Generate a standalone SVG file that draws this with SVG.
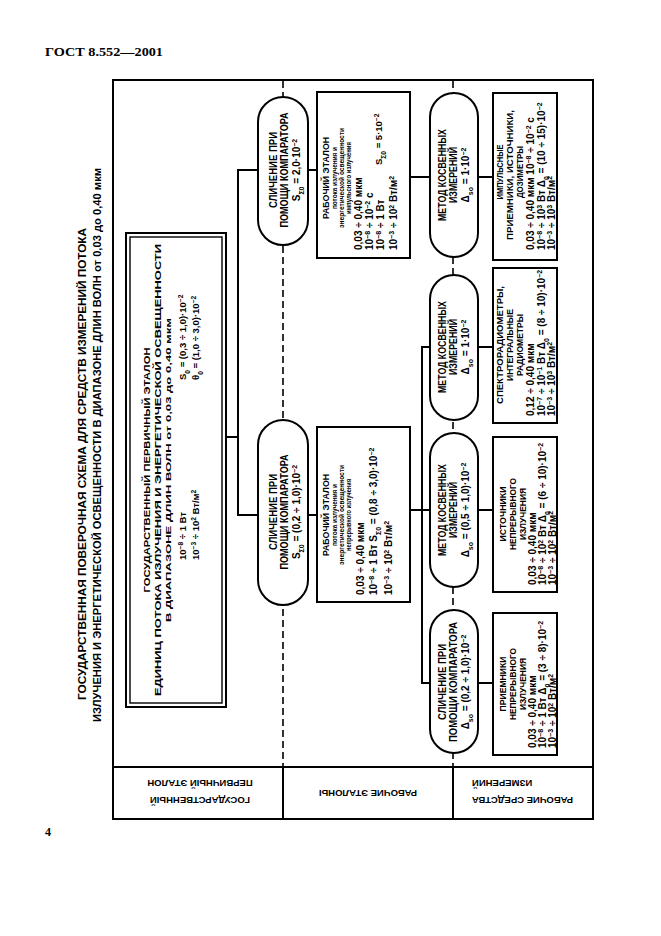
<svg xmlns="http://www.w3.org/2000/svg" width="661" height="936" viewBox="0 0 661 936">
<style>
.t{font-family:"Liberation Sans",Arial,sans-serif;font-weight:bold;fill:#000}
.f{fill:#fff;stroke:#000;stroke-width:2}
.c{fill:none;stroke:#000;stroke-width:2}
.d{fill:none;stroke:#000;stroke-width:1.6;stroke-dasharray:7 4}
.h{font-family:"Liberation Serif","Times New Roman",serif;font-weight:bold;fill:#000}
.u{baseline-shift:super;font-size:70%}
.l{baseline-shift:sub;font-size:70%}
</style>
<rect width="661" height="936" fill="#fff"/>
<text class="h" x="45" y="56" font-size="13.5" textLength="118" lengthAdjust="spacingAndGlyphs">ГОСТ 8.552—2001</text>
<text class="h" x="45" y="836" font-size="12" font-weight="normal">4</text>

<g id="title">
<text class="t" font-size="10.5" text-anchor="middle" transform="translate(86,464) rotate(-90)" textLength="472" lengthAdjust="spacingAndGlyphs">ГОСУДАРСТВЕННАЯ ПОВЕРОЧНАЯ СХЕМА ДЛЯ СРЕДСТВ ИЗМЕРЕНИЙ ПОТОКА</text>
<text class="t" font-size="10.5" text-anchor="middle" transform="translate(101,445) rotate(-90)" textLength="554" lengthAdjust="spacingAndGlyphs">ИЗЛУЧЕНИЯ И ЭНЕРГЕТИЧЕСКОЙ ОСВЕЩЕННОСТИ В ДИАПАЗОНЕ ДЛИН ВОЛН от 0,03 до 0,40 мкм</text>
</g>

<g id="frame">
<rect class="c" x="113" y="80" width="480" height="739" stroke-width="2.5"/>
<line class="c" x1="113" y1="767" x2="593" y2="767"/>
<line class="c" x1="283" y1="767" x2="283" y2="819"/>
<line class="c" x1="453" y1="767" x2="453" y2="819"/>
<line class="d" x1="283" y1="81" x2="283" y2="767"/>
<line class="d" x1="453" y1="81" x2="453" y2="767"/>
</g>

<g id="labels">
<text class="t" font-size="9.5" text-anchor="middle" transform="translate(200,780) rotate(180)">ПЕРВИЧНЫЙ ЭТАЛОН</text>
<text class="t" font-size="9.5" text-anchor="middle" transform="translate(200,797) rotate(180)">ГОСУДАРСТВЕННЫЙ</text>
<text class="t" font-size="9.5" text-anchor="middle" transform="translate(368,790) rotate(180)">РАБОЧИЕ ЭТАЛОНЫ</text>
<text class="t" font-size="9.5" text-anchor="end" transform="translate(472,780) rotate(180)">ИЗМЕРЕНИЙ</text>
<text class="t" font-size="9.5" text-anchor="end" transform="translate(472,797) rotate(180)">РАБОЧИЕ СРЕДСТВА</text>
</g>

<g id="connectors">
<polyline class="c" points="226,437 238,437"/>
<polyline class="c" points="258,170 238,170 238,515 258,515"/>
<line class="c" x1="308" y1="170" x2="317" y2="170"/>
<line class="c" x1="308" y1="515" x2="317" y2="515"/>
<line class="c" x1="410" y1="177" x2="430" y2="177"/>
<line class="c" x1="410" y1="510" x2="422" y2="510"/>
<polyline class="c" points="430,347 422,347 422,683 430,683"/>
<line class="c" x1="422" y1="510" x2="430" y2="510"/>
<line class="c" x1="478" y1="177" x2="493" y2="177"/>
<line class="c" x1="478" y1="347" x2="493" y2="347"/>
<line class="c" x1="478" y1="510" x2="493" y2="510"/>
<line class="c" x1="478" y1="683" x2="493" y2="683"/>
</g>

<g id="primary">
<rect class="f" x="126" y="233" width="100" height="474"/>
<rect fill="none" stroke="#000" stroke-width="1.4" x="130" y="237" width="92" height="466"/>
<text class="t" font-size="9.5" text-anchor="middle" transform="translate(149.5,470) rotate(-90)" textLength="245" lengthAdjust="spacingAndGlyphs">ГОСУДАРСТВЕННЫЙ ПЕРВИЧНЫЙ ЭТАЛОН</text>
<text class="t" font-size="9.5" text-anchor="middle" transform="translate(160.5,470) rotate(-90)" textLength="452" lengthAdjust="spacingAndGlyphs">ЕДИНИЦ ПОТОКА ИЗЛУЧЕНИЯ И ЭНЕРГЕТИЧЕСКОЙ ОСВЕЩЕННОСТИ</text>
<text class="t" font-size="7.5" text-anchor="middle" transform="translate(170.5,470) rotate(-90)" textLength="304" lengthAdjust="spacingAndGlyphs">В ДИАПАЗОНЕ ДЛИН ВОЛН от 0,03 до 0,40 мкм</text>
<text class="t" font-size="9.5" transform="translate(185.5,380) rotate(-90)">S<tspan class="l">0</tspan> = (0,3 ÷ 1,0)·10<tspan class="u">−2</tspan></text>
<text class="t" font-size="9.5" transform="translate(198.5,380) rotate(-90)">θ<tspan class="l">0</tspan> = (1,0 ÷ 3,0)·10<tspan class="u">−2</tspan></text>
<text class="t" font-size="9.5" transform="translate(185.5,560) rotate(-90)">10<tspan class="u">−8</tspan> ÷ 1 Вт</text>
<text class="t" font-size="9.5" transform="translate(198.5,560) rotate(-90)">10<tspan class="u">−3</tspan> ÷ 10<tspan class="u">2</tspan> Вт/м<tspan class="u">2</tspan></text>
</g>

<g id="cmp1">
<rect class="f" x="258" y="97" width="50" height="148" rx="25"/>
<text class="t" font-size="10" text-anchor="middle" transform="translate(277,170) rotate(-90)" textLength="76" lengthAdjust="spacingAndGlyphs">СЛИЧЕНИЕ ПРИ</text>
<text class="t" font-size="10" text-anchor="middle" transform="translate(287.5,170) rotate(-90)" textLength="115" lengthAdjust="spacingAndGlyphs">ПОМОЩИ КОМПАРАТОРА</text>
<text class="t" font-size="10" text-anchor="middle" transform="translate(299.5,170) rotate(-90)">S<tspan class="l">Σ0</tspan> = 2,0·10<tspan class="u">−2</tspan></text>
</g>

<g id="cmp2">
<rect class="f" x="258" y="420" width="50" height="185" rx="25"/>
<text class="t" font-size="10" text-anchor="middle" transform="translate(277,512) rotate(-90)" textLength="76" lengthAdjust="spacingAndGlyphs">СЛИЧЕНИЕ ПРИ</text>
<text class="t" font-size="10" text-anchor="middle" transform="translate(287.5,512) rotate(-90)" textLength="115" lengthAdjust="spacingAndGlyphs">ПОМОЩИ КОМПАРАТОРА</text>
<text class="t" font-size="10" text-anchor="middle" transform="translate(299.5,512) rotate(-90)">S<tspan class="l">Σ0</tspan> = (0,2 ÷ 1,0)·10<tspan class="u">−2</tspan></text>
</g>

<g id="we1">
<rect class="f" x="317" y="92" width="93" height="166"/>
<text class="t" font-size="9.5" text-anchor="middle" transform="translate(329,178) rotate(-90)" textLength="82" lengthAdjust="spacingAndGlyphs">РАБОЧИЙ ЭТАЛОН</text>
<text class="t" font-size="6.5" text-anchor="middle" transform="translate(337,178) rotate(-90)" textLength="62" lengthAdjust="spacingAndGlyphs">потока излучения и</text>
<text class="t" font-size="6.5" text-anchor="middle" transform="translate(344,178) rotate(-90)" textLength="100" lengthAdjust="spacingAndGlyphs">энергетической освещенности</text>
<text class="t" font-size="6.5" text-anchor="middle" transform="translate(351,178) rotate(-90)" textLength="72" lengthAdjust="spacingAndGlyphs">импульсного излучения</text>
<text class="t" font-size="10" transform="translate(361.5,250) rotate(-90)">0,03 ÷ 0,40 мкм</text>
<text class="t" font-size="10" transform="translate(372.5,250) rotate(-90)">10<tspan class="u">−8</tspan> ÷ 10<tspan class="u">−2</tspan> с</text>
<text class="t" font-size="10" transform="translate(384,250) rotate(-90)">10<tspan class="u">−8</tspan> ÷ 1 Вт</text>
<text class="t" font-size="9.5" transform="translate(382,165) rotate(-90)">S<tspan class="l">Σ0</tspan> = 5·10<tspan class="u">−2</tspan></text>
<text class="t" font-size="10" transform="translate(397,250) rotate(-90)">10<tspan class="u">−3</tspan> ÷ 10<tspan class="u">2</tspan> Вт/м<tspan class="u">2</tspan></text>
</g>

<g id="we2">
<rect class="f" x="317" y="427" width="93" height="175"/>
<text class="t" font-size="9.5" text-anchor="middle" transform="translate(329,515) rotate(-90)" textLength="82" lengthAdjust="spacingAndGlyphs">РАБОЧИЙ ЭТАЛОН</text>
<text class="t" font-size="6.5" text-anchor="middle" transform="translate(337,515) rotate(-90)" textLength="62" lengthAdjust="spacingAndGlyphs">потока излучения и</text>
<text class="t" font-size="6.5" text-anchor="middle" transform="translate(344,515) rotate(-90)" textLength="100" lengthAdjust="spacingAndGlyphs">энергетической освещенности</text>
<text class="t" font-size="6.5" text-anchor="middle" transform="translate(351,515) rotate(-90)" textLength="72" lengthAdjust="spacingAndGlyphs">непрерывного излучения</text>
<text class="t" font-size="10" transform="translate(364,595) rotate(-90)">0,03 ÷ 0,40 мкм</text>
<text class="t" font-size="10" transform="translate(377,595) rotate(-90)">10<tspan class="u">−8</tspan> ÷ 1 Вт  S<tspan class="l">Σ0</tspan> = (0,8 ÷ 3,0)·10<tspan class="u">−2</tspan></text>
<text class="t" font-size="10" transform="translate(392,595) rotate(-90)">10<tspan class="u">−3</tspan> ÷ 10<tspan class="u">2</tspan> Вт/м<tspan class="u">2</tspan></text>
</g>

<g id="ind1">
<rect class="f" x="430" y="93" width="48" height="164" rx="24"/>
<text class="t" font-size="10" text-anchor="middle" transform="translate(446,175) rotate(-90)" textLength="92" lengthAdjust="spacingAndGlyphs">МЕТОД КОСВЕННЫХ</text>
<text class="t" font-size="10" text-anchor="middle" transform="translate(456.5,175) rotate(-90)" textLength="56" lengthAdjust="spacingAndGlyphs">ИЗМЕРЕНИЙ</text>
<text class="t" font-size="10" text-anchor="middle" transform="translate(468.5,175) rotate(-90)">Δ<tspan class="l">so</tspan> = 1·10<tspan class="u">−2</tspan></text>
</g>

<g id="ind2">
<rect class="f" x="430" y="275" width="48" height="145" rx="24"/>
<text class="t" font-size="10" text-anchor="middle" transform="translate(446,347) rotate(-90)" textLength="92" lengthAdjust="spacingAndGlyphs">МЕТОД КОСВЕННЫХ</text>
<text class="t" font-size="10" text-anchor="middle" transform="translate(456.5,347) rotate(-90)" textLength="56" lengthAdjust="spacingAndGlyphs">ИЗМЕРЕНИЙ</text>
<text class="t" font-size="10" text-anchor="middle" transform="translate(468.5,347) rotate(-90)">Δ<tspan class="l">so</tspan> = 1·10<tspan class="u">−2</tspan></text>
</g>

<g id="ind3">
<rect class="f" x="430" y="433" width="48" height="154" rx="24"/>
<text class="t" font-size="10" text-anchor="middle" transform="translate(446,510) rotate(-90)" textLength="92" lengthAdjust="spacingAndGlyphs">МЕТОД КОСВЕННЫХ</text>
<text class="t" font-size="10" text-anchor="middle" transform="translate(456.5,510) rotate(-90)" textLength="56" lengthAdjust="spacingAndGlyphs">ИЗМЕРЕНИЙ</text>
<text class="t" font-size="10" text-anchor="middle" transform="translate(468.5,510) rotate(-90)">Δ<tspan class="l">so</tspan> = (0,5 ÷ 1,0)·10<tspan class="u">−2</tspan></text>
</g>

<g id="cmp3">
<rect class="f" x="430" y="610" width="48" height="143" rx="24"/>
<text class="t" font-size="10" text-anchor="middle" transform="translate(446,682) rotate(-90)" textLength="76" lengthAdjust="spacingAndGlyphs">СЛИЧЕНИЕ ПРИ</text>
<text class="t" font-size="10" text-anchor="middle" transform="translate(456.5,682) rotate(-90)" textLength="120" lengthAdjust="spacingAndGlyphs">ПОМОЩИ КОМПАРАТОРА</text>
<text class="t" font-size="10" text-anchor="middle" transform="translate(468.5,682) rotate(-90)">Δ<tspan class="l">so</tspan> = (0,2 ÷ 1,0)·10<tspan class="u">−2</tspan></text>
</g>

<g id="mi1">
<rect class="f" x="493" y="93" width="64" height="167"/>
<text class="t" font-size="9.5" text-anchor="middle" transform="translate(503,172) rotate(-90)" textLength="55" lengthAdjust="spacingAndGlyphs">ИМПУЛЬСНЫЕ</text>
<text class="t" font-size="9.5" text-anchor="middle" transform="translate(513,175) rotate(-90)" textLength="130" lengthAdjust="spacingAndGlyphs">ПРИЕМНИКИ, ИСТОЧНИКИ,</text>
<text class="t" font-size="9.5" text-anchor="middle" transform="translate(523,172) rotate(-90)" textLength="52" lengthAdjust="spacingAndGlyphs">ДОЗИМЕТРЫ</text>
<text class="t" font-size="10" transform="translate(533.5,250) rotate(-90)">0,03 ÷ 0,40 мкм  10<tspan class="u">−8</tspan> ÷ 10<tspan class="u">−2</tspan> с</text>
<text class="t" font-size="10" transform="translate(544.5,250) rotate(-90)">10<tspan class="u">−8</tspan> ÷ 10<tspan class="u">3</tspan> Вт Δ<tspan class="l">0</tspan> = (10 ÷ 15)·10<tspan class="u">−2</tspan></text>
<text class="t" font-size="10" transform="translate(555,250) rotate(-90)">10<tspan class="u">−3</tspan> ÷ 10<tspan class="u">3</tspan> Вт/м<tspan class="u">2</tspan></text>
</g>

<g id="mi2">
<rect class="f" x="493" y="268" width="64" height="155"/>
<text class="t" font-size="9.5" text-anchor="middle" transform="translate(503,345) rotate(-90)" textLength="118" lengthAdjust="spacingAndGlyphs">СПЕКТРОРАДИОМЕТРЫ,</text>
<text class="t" font-size="9.5" text-anchor="middle" transform="translate(513,345) rotate(-90)" textLength="72" lengthAdjust="spacingAndGlyphs">ИНТЕГРАЛЬНЫЕ</text>
<text class="t" font-size="9.5" text-anchor="middle" transform="translate(523,345) rotate(-90)" textLength="62" lengthAdjust="spacingAndGlyphs">РАДИОМЕТРЫ</text>
<text class="t" font-size="10" transform="translate(533.5,416) rotate(-90)">0,12 ÷ 0,40 мкм</text>
<text class="t" font-size="10" transform="translate(544.5,416) rotate(-90)">10<tspan class="u">−7</tspan> ÷ 10<tspan class="u">−1</tspan> Вт Δ<tspan class="l">0</tspan> = (8 ÷ 10)·10<tspan class="u">−2</tspan></text>
<text class="t" font-size="10" transform="translate(555,416) rotate(-90)">10<tspan class="u">−3</tspan> ÷ 10<tspan class="u">3</tspan> Вт/м<tspan class="u">2</tspan></text>
</g>

<g id="mi3">
<rect class="f" x="493" y="437" width="64" height="155"/>
<text class="t" font-size="9.5" text-anchor="middle" transform="translate(506,514) rotate(-90)" textLength="55" lengthAdjust="spacingAndGlyphs">ИСТОЧНИКИ</text>
<text class="t" font-size="9.5" text-anchor="middle" transform="translate(516,514) rotate(-90)" textLength="72" lengthAdjust="spacingAndGlyphs">НЕПРЕРЫВНОГО</text>
<text class="t" font-size="9.5" text-anchor="middle" transform="translate(526,514) rotate(-90)" textLength="52" lengthAdjust="spacingAndGlyphs">ИЗЛУЧЕНИЯ</text>
<text class="t" font-size="10" transform="translate(535.5,585) rotate(-90)">0,03 ÷ 0,40 мкм</text>
<text class="t" font-size="10" transform="translate(545.5,585) rotate(-90)">10<tspan class="u">−8</tspan> ÷ 10<tspan class="u">2</tspan> Вт Δ<tspan class="l">0</tspan> = (6 ÷ 10)·10<tspan class="u">−2</tspan></text>
<text class="t" font-size="10" transform="translate(555.5,585) rotate(-90)">10<tspan class="u">−3</tspan> ÷ 10<tspan class="u">2</tspan> Вт/м<tspan class="u">2</tspan></text>
</g>

<g id="mi4">
<rect class="f" x="493" y="613" width="64" height="142"/>
<text class="t" font-size="9.5" text-anchor="middle" transform="translate(506,684) rotate(-90)" textLength="55" lengthAdjust="spacingAndGlyphs">ПРИЕМНИКИ</text>
<text class="t" font-size="9.5" text-anchor="middle" transform="translate(516,684) rotate(-90)" textLength="72" lengthAdjust="spacingAndGlyphs">НЕПРЕРЫВНОГО</text>
<text class="t" font-size="9.5" text-anchor="middle" transform="translate(526,684) rotate(-90)" textLength="52" lengthAdjust="spacingAndGlyphs">ИЗЛУЧЕНИЯ</text>
<text class="t" font-size="10" transform="translate(535.5,748) rotate(-90)">0,03 ÷ 0,40 мкм</text>
<text class="t" font-size="10" transform="translate(545.5,748) rotate(-90)">10<tspan class="u">−8</tspan> ÷ 1 Вт Δ<tspan class="l">0</tspan> = (3 ÷ 8)·10<tspan class="u">−2</tspan></text>
<text class="t" font-size="10" transform="translate(555.5,748) rotate(-90)">10<tspan class="u">−3</tspan> ÷ 10<tspan class="u">2</tspan> Вт/м<tspan class="u">2</tspan></text>
</g>
</svg>
